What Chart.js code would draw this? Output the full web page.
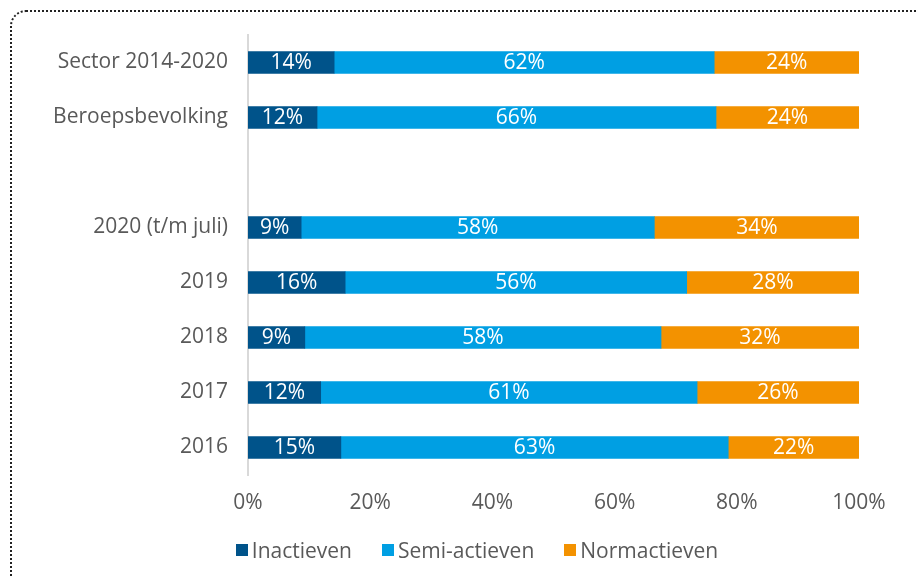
<!DOCTYPE html>
<html>
<head>
<meta charset="utf-8">
<script src="https://cdn.jsdelivr.net/npm/chart.js@4"></script>
<style>
    html, body { margin: 0; padding: 0; background: #fff; }
    #wrap { position: relative; width: 916px; height: 576px; overflow: hidden; font-family: 'Open Sans', sans-serif; }
    #frame {
        position: absolute; left: 10px; top: 10px; width: 1000px; height: 700px;
        border: 2px dotted #222; border-top-left-radius: 16px; box-sizing: border-box;
    }
    canvas { position: absolute; left: 0; top: 0; }
    #legend {
        position: absolute; left: 0; width: 954px; top: 535px; height: 30px;
        display: flex; justify-content: center; align-items: center;
        font-size: 21px; color: #595959;
    }
    #legend .item { display: flex; align-items: center; margin: 0 15px; }
    #legend .box { width: 12px; height: 12px; margin-right: 4px; }
</style>
</head>
<body>
<div id="wrap">
    <div id="frame"></div>
    <canvas id="chart" width="916" height="576"></canvas>
    <div id="legend"></div>
</div>
<script>
// categorieen (leeg label = witregel tussen groepen)
const categories = ['Sector 2014-2020', 'Beroepsbevolking', '', '2020 (t/m juli)', '2019', '2018', '2017', '2016'];

const inactieven    = [14.1, 11.3, null,  8.7, 15.9,  9.3, 11.9, 15.2];
const semiActieven  = [62.2, 65.3, null, 57.8, 55.9, 58.3, 61.6, 63.4];
const normactieven  = [23.7, 23.4, null, 33.6, 28.2, 32.4, 26.5, 21.4];

// labels zoals ze in de grafiek staan
const labelsInactief = [14, 12, null,  9, 16,  9, 12, 15];
const labelsSemi     = [62, 66, null, 58, 56, 58, 61, 63];
const labelsNorm     = [24, 24, null, 34, 28, 32, 26, 22];

const xTicks = [0, 20, 40, 60, 80, 100];

const FONT = "'Open Sans', sans-serif";
const GREY = '#595959';

// eenvoudige plugin voor de witte percentages in de balken
const barLabels = {
    id: 'barLabels',
    afterDatasetsDraw(chart) {
        const ctx = chart.ctx;
        ctx.save();
        ctx.font = `21px ${FONT}`;
        ctx.fillStyle = '#fff';
        ctx.textAlign = 'center';
        ctx.textBaseline = 'middle';
        chart.data.datasets.forEach((ds, i) => {
            const meta = chart.getDatasetMeta(i);
            meta.data.forEach((bar, j) => {
                const txt = ds.pctLabels[j];
                if (txt == null) return;
                const { x, base, y } = bar.getProps(['x', 'base', 'y'], true);
                ctx.fillText(txt + '%', (x + base) / 2, y + 1);
            });
        });
        ctx.restore();
    }
};

const chart = new Chart(document.getElementById('chart'), {
    type: 'bar',
    data: {
        labels: categories,
        datasets: [
            { label: 'Inactieven', data: inactieven, pctLabels: labelsInactief, backgroundColor: '#00538a' },
            { label: 'Semi-actieven', data: semiActieven, pctLabels: labelsSemi, backgroundColor: '#009fe3' },
            { label: 'Normactieven', data: normactieven, pctLabels: labelsNorm, backgroundColor: '#f39200' }
        ]
    },
    options: {
        indexAxis: 'y',
        responsive: false,
        animation: false,
        barThickness: 22,
        layout: { padding: { top: 35, left: 10, right: 57, bottom: 46 } },
        plugins: {
            tooltip: { enabled: false },
            legend: { display: false }
        },
        scales: {
            x: {
                stacked: true,
                min: 0,
                max: 100,
                grid: { display: false },
                border: { display: false },
                afterBuildTicks: (axis) => { axis.ticks = xTicks.map(v => ({ value: v })); },
                afterFit: (axis) => { axis.height = 55; },
                ticks: {
                    padding: 7,
                    color: GREY,
                    font: { family: FONT, size: 21 },
                    callback: (v) => v + '%'
                }
            },
            y: {
                stacked: true,
                grid: { display: false },
                border: { display: true, color: '#d9d9d9', width: 2 },
                afterFit: (axis) => { axis.width = 238; },
                ticks: {
                    padding: 12,
                    color: GREY,
                    font: { family: FONT, size: 21 }
                }
            }
        }
    },
    plugins: [barLabels]
});

// legenda als html onder de grafiek
const legend = document.getElementById('legend');
chart.data.datasets.forEach(ds => {
    const item = document.createElement('div');
    item.className = 'item';
    item.innerHTML = `<span class="box" style="background:${ds.backgroundColor}"></span><span>${ds.label}</span>`;
    legend.appendChild(item);
});
</script>
</body>
</html>
